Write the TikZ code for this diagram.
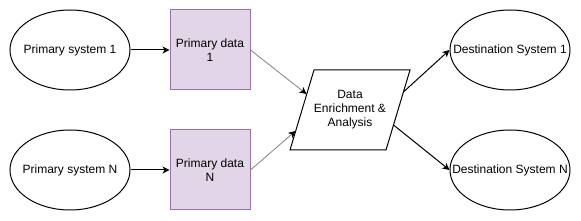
\documentclass[tikz,border=0pt]{standalone}
\usepackage{fontspec}
\setmainfont{Liberation Sans}
\usetikzlibrary{arrows.meta,shapes.geometric}
\definecolor{boxfill}{HTML}{E1D5E7}
\definecolor{boxdraw}{HTML}{9673A6}
\definecolor{lightline}{HTML}{808080}
\begin{document}
\begin{tikzpicture}[x=1pt,y=-1pt,
  every node/.style={font=\fontsize{12}{14}\selectfont, align=center, inner sep=0pt},
  sysell/.style={ellipse, draw=black, line width=1pt, minimum width=120pt, minimum height=80pt, inner sep=0pt},
  databox/.style={rectangle, draw=boxdraw, fill=boxfill, line width=1pt, minimum width=80pt, minimum height=80pt},
  arr/.style={draw=black, line width=1pt, -{Stealth[length=7pt,width=7pt,inset=2pt]}},
  grayarr/.style={draw=lightline, line width=0.8pt, -{Stealth[length=7pt,width=7pt,inset=2pt,fill=black,color=black]}}
]
\useasboundingbox (0,0) rectangle (581,221);
\node[sysell, label={center:Primary system 1}] (ps1) at (70,50) {};
\node[sysell, label={center:Primary system N}] (psn) at (70,170) {};
\node[databox] (pd1) at (210,50) {Primary data\\1};
\node[databox] (pdn) at (210,170) {Primary data\\N};
\draw[line width=1pt] (314,70) -- (410,70) -- (386,150) -- (290,150) -- cycle;
\node (dea) at (350,110) {Data\\Enrichment \&\\Analysis};
\node[sysell, label={center:Destination System 1}] (ds1) at (510,50) {};
\node[sysell, label={center:Destination System N}] (dsn) at (510,170) {};
\coordinate (in1) at (306.5,94);
\coordinate (inn) at (295.5,131);
\coordinate (out1) at (403.4,92);
\coordinate (outn) at (393.5,125);
\draw[arr] (ps1.east) -- (pd1.west);
\draw[arr] (psn.east) -- (pdn.west);
\draw[grayarr] (pd1.east) -- (in1);
\draw[grayarr] (pdn.east) -- (inn);
\draw[arr] (out1) -- (ds1.west);
\draw[arr] (outn) -- (dsn.west);
\end{tikzpicture}
\end{document}
